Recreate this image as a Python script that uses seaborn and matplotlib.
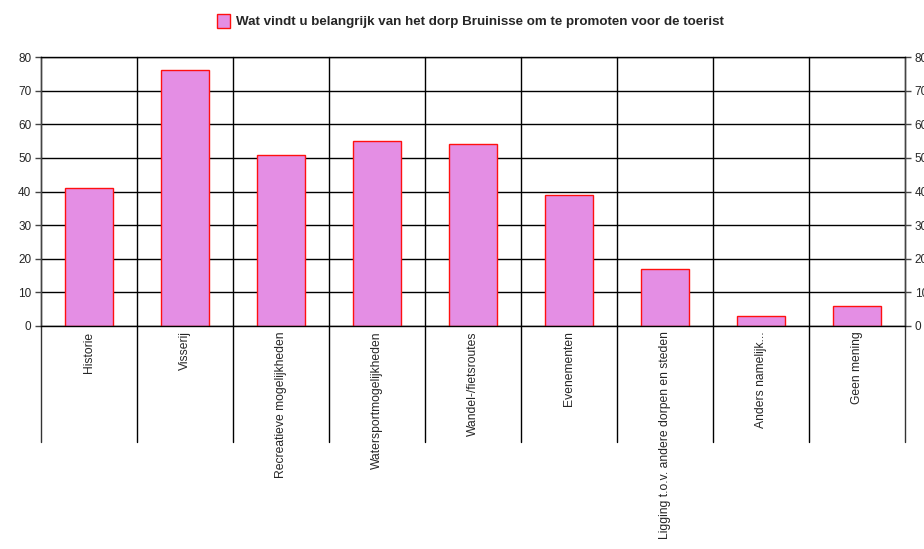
import numpy as np
import pandas as pd
import matplotlib
matplotlib.use("Agg")
import matplotlib.pyplot as plt
import seaborn as sns
from matplotlib.patches import Patch

categories = ["Historie", "Visserij", "Recreatieve mogelijkheden", "Watersportmogelijkheden",
              "Wandel-/fietsroutes", "Evenementen", "Ligging t.o.v. andere dorpen en steden",
              "Anders namelijk...", "Geen mening"]
values = [41, 76, 51, 55, 54, 39, 17, 3, 6]
yticks = [0, 10, 20, 30, 40, 50, 60, 70, 80]
title = "Wat vindt u belangrijk van het dorp Bruinisse om te promoten voor de toerist"

sns.set_style("white")
plt.rcParams['font.family'] = ['Liberation Sans', 'DejaVu Sans']

df = pd.DataFrame({"cat": categories, "val": values})
barcolor = "#e48ee4"

fig = plt.figure(figsize=(9.24, 5.49), dpi=100)
W, H = 924, 549
ax = fig.add_axes([41 / W, (H - 326) / H, 864 / W, 269 / H])

sns.barplot(data=df, x="cat", y="val", ax=ax, width=0.5, color=barcolor,
            edgecolor="#ff1010", linewidth=1, saturation=1)

ax.set_xlim(-0.5, len(categories) - 0.5)
ax.set_ylim(0, 80)
ax.set_yticks(yticks)
ax.set_xlabel("")
ax.set_ylabel("")
ax.set_axisbelow(True)
ax.yaxis.grid(True, color="black", linewidth=1)
ax.tick_params(axis="y", which="both", left=True, right=True, labelleft=True, labelright=True,
               length=4, width=1, color="#444444", labelsize=8.5, pad=3)
ax.tick_params(axis="x", bottom=False, length=0)
ax.set_xticks(range(len(categories)))
ax.set_xticklabels(categories, rotation=90, fontsize=8.7, va="top", ha="center")
ax.tick_params(axis="x", pad=4)

for s in ["top", "bottom"]:
    ax.spines[s].set_color("black")
    ax.spines[s].set_linewidth(1)
for s in ["left", "right"]:
    ax.spines[s].set_color("#444444")
    ax.spines[s].set_linewidth(1)

# category separators running below the axis
low = -(442 - 326) / 269
for i in range(len(categories) + 1):
    ax.plot([i - 0.5, i - 0.5], [1, low], transform=ax.get_xaxis_transform(),
            color="#333333" if i in (0, len(categories)) else "black", linewidth=1,
            clip_on=False, zorder=0.5)

handle = Patch(facecolor=barcolor, edgecolor="#ff1010", linewidth=1)
fig.legend([handle], [title], loc="upper left", bbox_to_anchor=(205 / W, 1 - 2 / H),
           frameon=False, prop={"weight": "bold", "size": 9.6}, handlelength=1.0,
           handleheight=1.2, handletextpad=0.4)

plt.savefig("out.png", dpi=100)
